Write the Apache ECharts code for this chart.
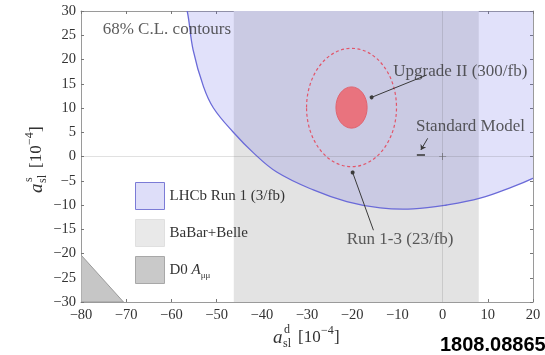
<!DOCTYPE html>
<html>
<head>
<meta charset="utf-8">
<script src="https://cdn.jsdelivr.net/npm/echarts@6/dist/echarts.min.js"></script>
<style>
  html, body { margin: 0; padding: 0; background: #fff; }
  #chart { width: 545px; height: 355px; }
</style>
</head>
<body>
<div id="chart"></div>
<script>
// axis ranges
const xRange = [-80, 20]
const yRange = [-30, 30]

// BaBar+Belle band (a_sl^d range)
const babarX = [-46.2, 8.0]

// LHCb Run 1 contour, read along the edge
const lhcbX = [-58.0, -56.5, -55.2, -52.9, -50.7, -46.3, -41.9, -36.7, -28.6, -21.2, -13.8, -6.5, 0.9, 8.3, 15.6, 19.7, 24.0]
const lhcbY = [35.0, 30.0, 22.0, 14.4, 10.0, 5.0, 0.8, -3.2, -6.9, -9.3, -10.6, -10.8, -10.0, -8.6, -6.2, -4.6, -2.5]
// closes the contour outside the frame
const lhcbCloseX = [35, 35, -60]
const lhcbCloseY = [5, 45, 45]

// D0 A_mumu corner
const d0X = [-80, -70.6, -80]
const d0Y = [-20.3, -30, -30]

// projected contours, centre and half widths
const upgradeCenter = [-20.15, 10.1]
const upgradeRadii = [3.45, 4.25]
const run13Center = [-20.15, 10.1]
const run13Radii = [9.95, 12.2]

// standard model
const smBar = [[-5.7, 0.3], [-3.9, 0.3]]
const origin = [[0, 0]]

// annotations
const noteText = ['68% C.L. contours', 'Upgrade II (300/fb)', 'Standard Model', 'Run 1-3 (23/fb)']
const noteX = [-75.2, -10.9, -5.9, -21.2]
const noteY = [26.1, 17.5, 6.1, -17.2]
const dotArrows = [
  [[-3.5, 16.8], [-15.7, 12.2]],
  [[-15.3, -15.2], [-19.9, -3.3]]
]
const smArrow = [[[-3.3, 3.75], [-4.8, 1.35]]]

const serif = '"Liberation Serif", "Times New Roman", serif'
const minus = v => v < 0 ? '\u2212' + Math.abs(v) : String(v)

const chart = echarts.init(document.getElementById('chart'))

const frame = { show: true, onZero: false, lineStyle: { color: '#9a9a9a', width: 1 } }
const ticks = { show: true, inside: true, length: 3, lineStyle: { color: '#777' } }
const tickLabel = { formatter: minus, fontFamily: serif, fontSize: 14.5, color: '#333' }

// math-style axis title built from text pieces
const piece = (text, x, y, size, italic) => ({
  type: 'text', x: x, y: y,
  style: { text: text, font: (italic ? 'italic ' : '') + size + 'px ' + serif, fill: '#333',
    textVerticalAlign: 'middle', verticalAlign: 'middle' }
})
const mathTitle = sup => [
  piece('a', 0, 0, 19, true),
  piece(sup, 11, -8, 12),
  piece('sl', 10, 6, 12),
  piece('[10', 25, 0, 17),
  piece('\u22124', 48, -7, 12),
  piece(']', 61, 0, 17)
]

const option = {
  animation: false,
  backgroundColor: '#fff',
  grid: { left: 81, right: 12, top: 11, bottom: 53 },
  xAxis: [
    { type: 'value', min: xRange[0], max: xRange[1], interval: 10, position: 'bottom',
      axisLine: frame, axisTick: ticks, axisLabel: { ...tickLabel, margin: 6 }, splitLine: { show: false } },
    { type: 'value', min: xRange[0], max: xRange[1], interval: 10, position: 'top',
      axisLine: frame, axisTick: ticks, axisLabel: { show: false }, splitLine: { show: false } }
  ],
  yAxis: [
    { type: 'value', min: yRange[0], max: yRange[1], interval: 5, position: 'left',
      axisLine: frame, axisTick: ticks, axisLabel: { ...tickLabel, margin: 5 }, splitLine: { show: false } },
    { type: 'value', min: yRange[0], max: yRange[1], interval: 5, position: 'right',
      axisLine: frame, axisTick: ticks, axisLabel: { show: false }, splitLine: { show: false } }
  ],
  legend: {
    left: 130, top: 177, orient: 'vertical',
    itemWidth: 29, itemHeight: 27, itemGap: 9,
    selectedMode: false,
    data: [
      { name: 'LHCb Run 1 (3/fb)', icon: 'rect', itemStyle: { color: '#dedef9', borderColor: '#7b7bd6', borderWidth: 1 } },
      { name: 'BaBar+Belle', icon: 'rect', itemStyle: { color: '#e9e9e9', borderColor: '#e0e0e0', borderWidth: 1 } },
      { name: 'D0 A\u03bc\u03bc', icon: 'rect', itemStyle: { color: '#c9c9c9', borderColor: '#a8a8a8', borderWidth: 1 } }
    ],
    formatter: n => n === 'D0 A\u03bc\u03bc' ? 'D0 {i|A}{sub|\u03bc\u03bc}' : n,
    textStyle: {
      fontFamily: serif, fontSize: 15, color: '#333',
      rich: {
        i: { fontFamily: serif, fontSize: 15, fontStyle: 'italic', color: '#333' },
        sub: { fontFamily: serif, fontSize: 9, color: '#333', verticalAlign: 'bottom', lineHeight: 20 }
      }
    }
  },
  graphic: [
    { type: 'group', x: 273, y: 338, children: mathTitle('d') },
    { type: 'group', x: 37, y: 193, rotation: Math.PI / 2, children: mathTitle('s') },
    { type: 'text', x: 440, y: 345, style: { text: '1808.08865', font: 'bold 20px "Liberation Sans", Arial, sans-serif', fill: '#000', textVerticalAlign: 'middle', verticalAlign: 'middle' } }
  ],
  series: [
    {
      name: 'BaBar+Belle', type: 'custom', z: 1, clip: true,
      itemStyle: { color: '#e3e3e3' },
      data: [babarX],
      renderItem: (params, api) => {
        const cs = params.coordSys
        const x0 = api.coord([api.value(0), 0])[0]
        const x1 = api.coord([api.value(1), 0])[0]
        return { type: 'rect', shape: { x: x0, y: cs.y, width: x1 - x0, height: cs.height }, style: { fill: '#e3e3e3' } }
      }
    },
    {
      name: 'LHCb Run 1 (3/fb)', type: 'custom', z: 2, clip: true,
      itemStyle: { color: '#dedef9' },
      data: [0],
      renderItem: (params, api) => {
        const edge = lhcbX.map((x, i) => api.coord([x, lhcbY[i]]))
        const rest = lhcbCloseX.map((x, i) => api.coord([x, lhcbCloseY[i]]))
        return {
          type: 'group',
          children: [
            { type: 'polygon', shape: { points: edge.concat(rest), smooth: 0.4 }, style: { fill: 'rgba(105,105,230,0.2)' } },
            { type: 'polyline', shape: { points: edge, smooth: 0.4 }, style: { stroke: '#6a6ad8', lineWidth: 1.3, fill: null } }
          ]
        }
      }
    },
    {
      name: 'D0 A\u03bc\u03bc', type: 'custom', z: 3, clip: true,
      itemStyle: { color: '#c9c9c9' },
      data: [0],
      renderItem: (params, api) => ({
        type: 'polygon',
        shape: { points: d0X.map((x, i) => api.coord([x, d0Y[i]])) },
        style: { fill: '#c6c6c6', stroke: '#9a9a9a', lineWidth: 1 }
      })
    },
    {
      name: 'Run 1-3', type: 'custom', z: 4, clip: true,
      data: [0],
      renderItem: (params, api) => {
        const c = api.coord(run13Center)
        const r = api.size(run13Radii)
        return { type: 'ellipse', shape: { cx: c[0], cy: c[1], rx: r[0], ry: r[1] },
          style: { fill: null, stroke: '#e2566a', lineWidth: 1.2, lineDash: [3, 2.5] } }
      }
    },
    {
      name: 'Upgrade II', type: 'custom', z: 4, clip: true,
      data: [0],
      renderItem: (params, api) => {
        const c = api.coord(upgradeCenter)
        const r = api.size(upgradeRadii)
        return { type: 'ellipse', shape: { cx: c[0], cy: c[1], rx: r[0], ry: r[1] },
          style: { fill: '#e9737e', stroke: '#e0636f', lineWidth: 1 } }
      }
    },
    {
      name: 'zero', type: 'scatter', z: 5, silent: true, symbolSize: 0,
      data: [],
      markLine: {
        silent: true, symbol: 'none', label: { show: false },
        lineStyle: { color: 'rgba(90,90,90,0.18)', type: 'solid', width: 1 },
        data: [{ xAxis: 0 }, { yAxis: 0 }]
      }
    },
    {
      name: 'SM', type: 'lines', coordinateSystem: 'cartesian2d', z: 6, silent: true,
      symbol: 'none',
      lineStyle: { color: '#333', width: 1.6, opacity: 1 },
      data: [{ coords: smBar }]
    },
    {
      name: 'origin', type: 'scatter', z: 6, silent: true,
      symbol: 'path://M0,4.5h10v1h-10zM4.5,0h1v10h-1z', symbolSize: 7,
      itemStyle: { color: '#555' },
      data: origin
    },
    {
      name: 'pointers', type: 'lines', coordinateSystem: 'cartesian2d', z: 7, silent: true,
      symbol: ['none', 'circle'], symbolSize: 4,
      lineStyle: { color: '#3a3a3a', width: 1, opacity: 1 },
      data: dotArrows.map(c => ({ coords: c }))
    },
    {
      name: 'smPointer', type: 'lines', coordinateSystem: 'cartesian2d', z: 7, silent: true,
      symbol: ['none', 'arrow'], symbolSize: 5,
      lineStyle: { color: '#3a3a3a', width: 1, opacity: 1 },
      data: smArrow.map(c => ({ coords: c }))
    },
    {
      name: 'notes', type: 'scatter', z: 8, silent: true, symbolSize: 0,
      data: noteText.map((t, i) => ({ name: t, value: [noteX[i], noteY[i]] })),
      label: {
        show: true, position: 'right', distance: 0, formatter: '{b}',
        fontFamily: serif, fontSize: 17, color: '#333'
      }
    }
  ]
}

chart.setOption(option)
</script>
</body>
</html>
